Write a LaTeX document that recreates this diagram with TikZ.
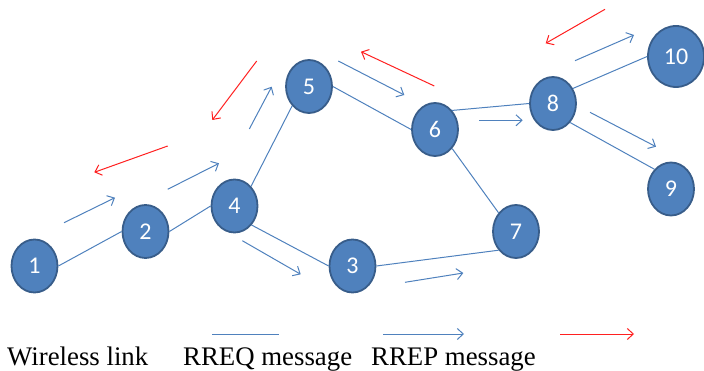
\documentclass[tikz,border=0pt]{standalone}
\usepackage{fontspec}
\setmainfont{Liberation Serif}
\newfontfamily\digitfont{Carlito}
\usetikzlibrary{shapes.geometric,arrows.meta}
\definecolor{nodefill}{HTML}{4F81BD}
\definecolor{nodeedge}{HTML}{385D8A}
\definecolor{linkblue}{HTML}{4F81BD}
\definecolor{repred}{HTML}{FF2020}
\tikzset{
  mnode/.style={ellipse, draw=nodeedge, line width=1.8pt, fill=nodefill,
    minimum width=46pt, minimum height=53pt, inner sep=0pt,
    text=white, font=\digitfont\fontsize{24}{24}\selectfont},
  bignode/.style={mnode, minimum width=56pt, minimum height=61pt},
  link/.style={draw=linkblue, line width=1pt},
  rreq/.style={draw=linkblue, line width=1pt, -{Straight Barb[length=6pt,width=11pt]}},
  rrep/.style={draw=repred, line width=1pt, -{Straight Barb[length=6pt,width=11pt]}},
  legend/.style={anchor=base west, inner sep=0pt, font=\fontsize{26.8}{27}\selectfont}
}
\begin{document}
\begin{tikzpicture}[x=1pt,y=-1pt]
\useasboundingbox (0,0) rectangle (704,371);

% wireless nodes
\node[mnode] (n1) at (34.5,266) {1};
\node[mnode] (n2) at (145.5,231.5) {2};
\node[mnode] (n4) at (234.5,206) {4};
\node[mnode] (n3) at (352.5,266) {3};
\node[mnode] (n5) at (309,86.5) {5};
\node[mnode] (n6) at (435,129.5) {6};
\node[mnode] (n7) at (516,231.5) {7};
\node[mnode] (n8) at (553,103.5) {8};
\node[mnode] (n9) at (671,189) {9};
\node[bignode] (n10) at (676,56.5) {10};

% wireless links, attached at the shapes' connection points
\draw[link] (n1.east) -- (n2.west);
\draw[link] (n2.east) -- (n4.west);
\draw[link] (n4.50) -- (n5.229);
\draw[link] (n4.-48) -- (n3.west);
\draw[link] (n5.east) -- (n6.west);
\draw[link] (n6.48) -- (n8.west);
\draw[link] (n6.-48) -- (n7.133);
\draw[link] (n3.east) -- (n7.227);
\draw[link] (n8.37) -- (n10.west);
\draw[link] (n8.-48) -- (n9.130);

% route request flooding
\coordinate (q1a) at (64,222.7);   \coordinate (q1b) at (115,197.7);
\coordinate (q2a) at (167.7,189.3); \coordinate (q2b) at (219,163.3);
\coordinate (q3a) at (242.3,240.7); \coordinate (q3b) at (300.7,274.3);
\coordinate (q4a) at (249.3,129);  \coordinate (q4b) at (271.7,86.7);
\coordinate (q5a) at (338.3,61);   \coordinate (q5b) at (404.3,95);
\coordinate (q6a) at (479,120.3);  \coordinate (q6b) at (522.7,120.3);
\coordinate (q7a) at (405,282.3);  \coordinate (q7b) at (463.3,273);
\coordinate (q8a) at (575,60.7);   \coordinate (q8b) at (634,35);
\coordinate (q9a) at (590,112.3);  \coordinate (q9b) at (656,146.7);
\foreach \i in {1,...,9} \draw[rreq] (q\i a) -- (q\i b);

% route reply back to the source
\coordinate (p1a) at (167.7,146);  \coordinate (p1b) at (94.3,172.3);
\coordinate (p2a) at (256.7,61);   \coordinate (p2b) at (212.3,120);
\coordinate (p3a) at (434.3,86);   \coordinate (p3b) at (361,51.7);
\coordinate (p4a) at (605,9.3);    \coordinate (p4b) at (545.7,43.3);
\foreach \i in {1,...,4} \draw[rrep] (p\i a) -- (p\i b);

% legend
\coordinate (l1a) at (212,334); \coordinate (l1b) at (279,334);
\coordinate (l2a) at (383,334); \coordinate (l2b) at (464,334);
\coordinate (l3a) at (560,334); \coordinate (l3b) at (634,334);
\draw[link] (l1a) -- (l1b);
\draw[rreq] (l2a) -- (l2b);
\draw[rrep] (l3a) -- (l3b);
\node[legend] (t1) at (7,365) {Wireless link};
\node[legend] (t2) at (183,365) {RREQ message};
\node[legend] (t3) at (371,365) {RREP message};
\end{tikzpicture}
\end{document}
